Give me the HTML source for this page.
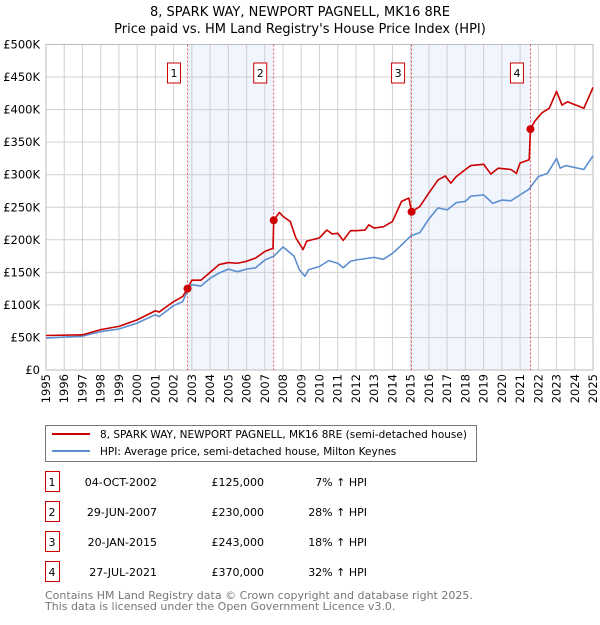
<!DOCTYPE html>
<html><head><meta charset="utf-8"><style>
body{margin:0;background:#fff;font-family:"Liberation Sans","DejaVu Sans",sans-serif;}
svg text{font-family:"DejaVu Sans","Liberation Sans",sans-serif;}
</style></head><body>
<svg id="c" width="600" height="620" xmlns="http://www.w3.org/2000/svg">
<text x="300" y="16" text-anchor="middle" font-size="13">8, SPARK WAY, NEWPORT PAGNELL, MK16 8RE</text>
<text x="300" y="33" text-anchor="middle" font-size="13">Price paid vs. HM Land Registry's House Price Index (HPI)</text>
<g id="plot"></g>
<g>
<rect x="45.5" y="425.5" width="431" height="36" fill="#fff" stroke="#777"/>
<line x1="52" y1="434" x2="90" y2="434" stroke="#cc0000" stroke-width="2"/>
<text x="100" y="438" font-size="10.5">8, SPARK WAY, NEWPORT PAGNELL, MK16 8RE (semi-detached house)</text>
<line x1="52" y1="451" x2="90" y2="451" stroke="#5b8fd0" stroke-width="2"/>
<text x="100" y="455" font-size="10.5">HPI: Average price, semi-detached house, Milton Keynes</text>
</g>
<g id="table"></g>
<text x="45" y="599" font-size="11" fill="#777">Contains HM Land Registry data © Crown copyright and database right 2025.</text>
<text x="45" y="610" font-size="11" fill="#777">This data is licensed under the Open Government Licence v3.0.</text>
</svg>
<script>
const hpiYears=[1995,1997,1998,1999,2000,2001,2001.2,2002,2002.5,2002.75,2003,2003.5,2004,2004.5,2005,2005.5,2006,2006.5,2007,2007.5,2007.75,2008,2008.3,2008.6,2008.9,2009.2,2009.4,2010,2010.5,2011,2011.3,2011.7,2012,2013,2013.5,2014,2014.5,2015,2015.5,2016,2016.5,2017,2017.5,2018,2018.3,2019,2019.5,2020,2020.5,2021,2021.5,2022,2022.5,2023,2023.2,2023.5,2024.5,2025];
const hpiValues=[49,52,59,63,72,85,82,99,105,121,131,129,141,149,155,151,155,157,169,175,182,189,182,175,154,144,154,159,168,164,157,167,169,173,170,179,192,206,211,232,249,246,257,259,267,269,256,261,260,269,278,297,302,325,310,314,308,329];
const propYears=[1995,1997,1998,1999,2000,2001,2001.2,2002,2002.5,2002.76,2003,2003.5,2004,2004.5,2005,2005.5,2006,2006.5,2007,2007.45,2007.49,2007.8,2008,2008.4,2008.7,2009.1,2009.3,2010,2010.4,2010.7,2011,2011.3,2011.7,2012,2012.5,2012.7,2013,2013.5,2014,2014.5,2014.9,2015.05,2015.5,2016,2016.5,2016.9,2017.2,2017.5,2018,2018.3,2019,2019.4,2019.8,2020.5,2020.8,2021,2021.5,2021.57,2021.8,2022.2,2022.6,2023,2023.3,2023.6,2024.5,2025];
const propValues=[53,54,62,67,77,91,89,105,113,125,138,138,150,162,165,164,167,172,182,187,230,242,236,228,203,185,198,203,215,209,210,199,214,214,215,223,218,220,228,259,264,243,251,272,292,298,287,297,308,314,316,301,310,308,302,318,323,370,382,395,402,428,407,412,402,434];
const saleYears=[2002.76,2007.49,2015.05,2021.57];
const saleValues=[125,230,243,370];
const saleLabels=["1","2","3","4"];
const saleDates=["04-OCT-2002","29-JUN-2007","20-JAN-2015","27-JUL-2021"];
const salePrices=["£125,000","£230,000","£243,000","£370,000"];
const saleHpi=["7% ↑ HPI","28% ↑ HPI","18% ↑ HPI","32% ↑ HPI"];
const yTicks=[0,50,100,150,200,250,300,350,400,450,500];
const yTickLabels=["£0","£50K","£100K","£150K","£200K","£250K","£300K","£350K","£400K","£450K","£500K"];
const xTicks=[1995,1996,1997,1998,1999,2000,2001,2002,2003,2004,2005,2006,2007,2008,2009,2010,2011,2012,2013,2014,2015,2016,2017,2018,2019,2020,2021,2022,2023,2024,2025];

const X0=46,X1=593,Y0=370,Y1=44.5;
const xs=v=>X0+(v-1995)/30*(X1-X0);
const ys=v=>Y0-v/500*(Y0-Y1);
const NS="http://www.w3.org/2000/svg";
function mk(p,tag,attrs){const e=document.createElementNS(NS,tag);for(const k in attrs)e.setAttribute(k,attrs[k]);p.appendChild(e);return e;}
const plot=document.getElementById('plot');
for(let i=0;i<saleYears.length;i+=2){
 const r=mk(plot,'rect',{x:xs(saleYears[i]),y:Y1,width:xs(saleYears[i+1])-xs(saleYears[i]),height:Y0-Y1,fill:'#f1f5fd'});
 
 
}
yTicks.forEach((t,i)=>{
 const l=mk(plot,'line',{x1:X0,x2:X1,y1:ys(t),y2:ys(t),stroke:'#d0d0d0'});
 
 
 const tx=mk(plot,'text',{x:40,y:ys(t)+4,'text-anchor':'end','font-size':'11.5'});tx.textContent=yTickLabels[i];
 
 
});
xTicks.forEach(t=>{
 const l=mk(plot,'line',{x1:xs(t),x2:xs(t),y1:Y1,y2:Y0,stroke:'#d0d0d0'});
 
 
 const tx=mk(plot,'text',{x:0,y:0,'text-anchor':'end','font-size':'11.5',transform:`translate(${xs(t)+4},374) rotate(-90)`});tx.textContent=t;
 
 
});
mk(plot,'rect',{x:X0,y:Y1,width:X1-X0,height:Y0-Y1,fill:'none',stroke:'#bbb'});
saleYears.forEach((s,i)=>{
 const l=mk(plot,'line',{x1:xs(s),x2:xs(s),y1:Y1,y2:Y0,stroke:'#e03030','stroke-dasharray':'2,2','stroke-width':'0.8'});
 
 
 const b=mk(plot,'rect',{x:xs(s)-20,y:63,width:13,height:20,fill:'#fff',stroke:'#cc0000'});
 
 
 const t=mk(plot,'text',{x:xs(s)-13.5,y:77,'text-anchor':'middle','font-size':'11'});t.textContent=saleLabels[i];
 
 
});
function line(xa,va,col,name){
 const p=mk(plot,'polyline',{points:xa.map((x,i)=>xs(x)+','+ys(va[i])).join(' '),fill:'none',stroke:col,'stroke-width':'1.6','stroke-linejoin':'round'});
 
 
}
line(hpiYears,hpiValues,'#5b8fd0','hpi-line');
line(propYears,propValues,'#cc0000','property-price-line');
saleYears.forEach((s,i)=>{
 const c=mk(plot,'circle',{cx:xs(s),cy:ys(saleValues[i]),r:4,fill:'#cc0000'});
 
 
});
const tb=document.getElementById('table');
saleLabels.forEach((s,i)=>{
 const y=483+i*30;
 const b=mk(tb,'rect',{x:45.5,y:y-11.5,width:14,height:20,fill:'#fff',stroke:'#cc0000'});
 
 
 const cells=[[52,s,'middle'],[157,saleDates[i],'end'],[264,salePrices[i],'end'],[367,saleHpi[i],'end']];
 cells.forEach(c=>{
  const t=mk(tb,'text',{x:c[0],y:y+3,'text-anchor':c[2],'font-size':'11'});t.textContent=c[1];
  
  
 });
});
</script>
</body></html>
